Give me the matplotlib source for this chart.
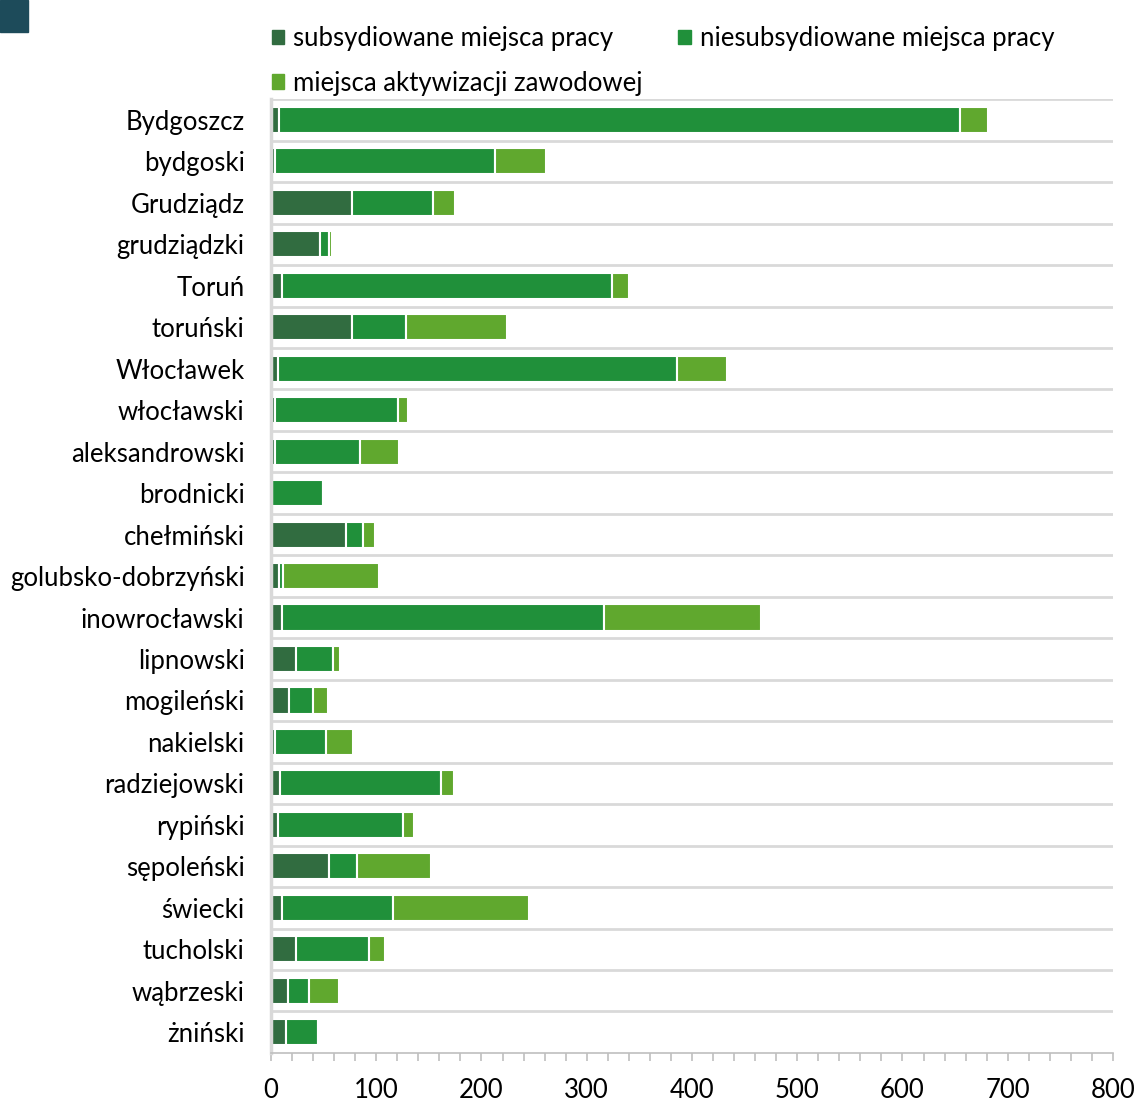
import matplotlib
matplotlib.use("Agg")
import matplotlib.pyplot as plt
from matplotlib.patches import Patch, Rectangle
from matplotlib.ticker import MultipleLocator
import numpy as np

plt.rcParams["font.family"] = ["Lato", "DejaVu Sans"]

# data
powiaty = [
    "Bydgoszcz", "bydgoski", "Grudziądz", "grudziądzki", "Toruń", "toruński",
    "Włocławek", "włocławski", "aleksandrowski", "brodnicki", "chełmiński",
    "golubsko-dobrzyński", "inowrocławski", "lipnowski", "mogileński",
    "nakielski", "radziejowski", "rypiński", "sępoleński", "świecki",
    "tucholski", "wąbrzeski", "żniński",
]
subsydiowane = [8, 4, 77, 47, 10, 77, 7, 4, 4, 1, 71, 8, 10, 24, 17, 4, 9, 7, 55, 10, 24, 16, 14]
niesubsydiowane = [647, 209, 77, 8, 314, 51, 379, 117, 81, 48, 16, 3, 306, 35, 23, 48, 153, 118, 27, 106, 69, 20, 31]
aktywizacja = [26, 48, 21, 3, 16, 96, 47, 9, 37, 0, 12, 92, 150, 7, 14, 26, 12, 11, 70, 129, 15, 29, 0]

series = [
    ("subsydiowane miejsca pracy", subsydiowane, "#316c40"),
    ("niesubsydiowane miejsca pracy", niesubsydiowane, "#20903a"),
    ("miejsca aktywizacji zawodowej", aktywizacja, "#60a82e"),
]

FS = 18.5

fig = plt.figure(figsize=(11.4, 11.02), dpi=100)
ax = fig.add_axes([0.2377, 0.0445, 0.7386, 0.8655])

y = np.arange(len(powiaty))
left = np.zeros(len(powiaty))
for name, vals, color in series:
    vals = np.array(vals, dtype=float)
    ax.barh(y, vals, left=left, height=0.63, color=color,
            edgecolor="white", linewidth=1.5, label=name)
    left += vals

ax.set_ylim(len(powiaty) - 0.5, -0.5)
ax.set_xlim(0, 800)
ax.set_yticks(y)
ax.set_yticklabels(powiaty, fontsize=FS)
ax.tick_params(axis="y", length=0, pad=19)

# gridlines between categories
for b in np.arange(-0.5, len(powiaty) - 0.5, 1.0):
    ax.axhline(b, color="#d9d9d9", lw=2, zorder=0)

ax.xaxis.set_major_locator(MultipleLocator(100))
ax.xaxis.set_minor_locator(MultipleLocator(20))
ax.tick_params(axis="x", which="both", direction="out", length=6,
               color="#bfbfbf", width=1.2, labelsize=FS, pad=12)

for side in ("top", "right"):
    ax.spines[side].set_visible(False)
ax.spines["left"].set_color("#d9d9d9")
ax.spines["left"].set_linewidth(2.5)
ax.spines["bottom"].set_color("#bfbfbf")
ax.spines["bottom"].set_linewidth(1.2)

# legend, ordered to read row by row
handles = [Patch(color=c) for _, _, c in series]
labels = [n for n, _, _ in series]
order = [0, 2, 1]
fig.legend([handles[i] for i in order], [labels[i] for i in order],
           loc="upper left", bbox_to_anchor=(0.218, 0.997), ncol=2,
           frameon=False, fontsize=FS, handlelength=0.48, handleheight=0.48,
           handletextpad=0.35, columnspacing=1.4, labelspacing=0.75)

# decorative square top-left
fig.patches.append(Rectangle((0, 1 - 32 / 1102), 28 / 1140, 32 / 1102,
                             transform=fig.transFigure, color="#1d4b5a"))

fig.savefig("out.png", dpi=100)
